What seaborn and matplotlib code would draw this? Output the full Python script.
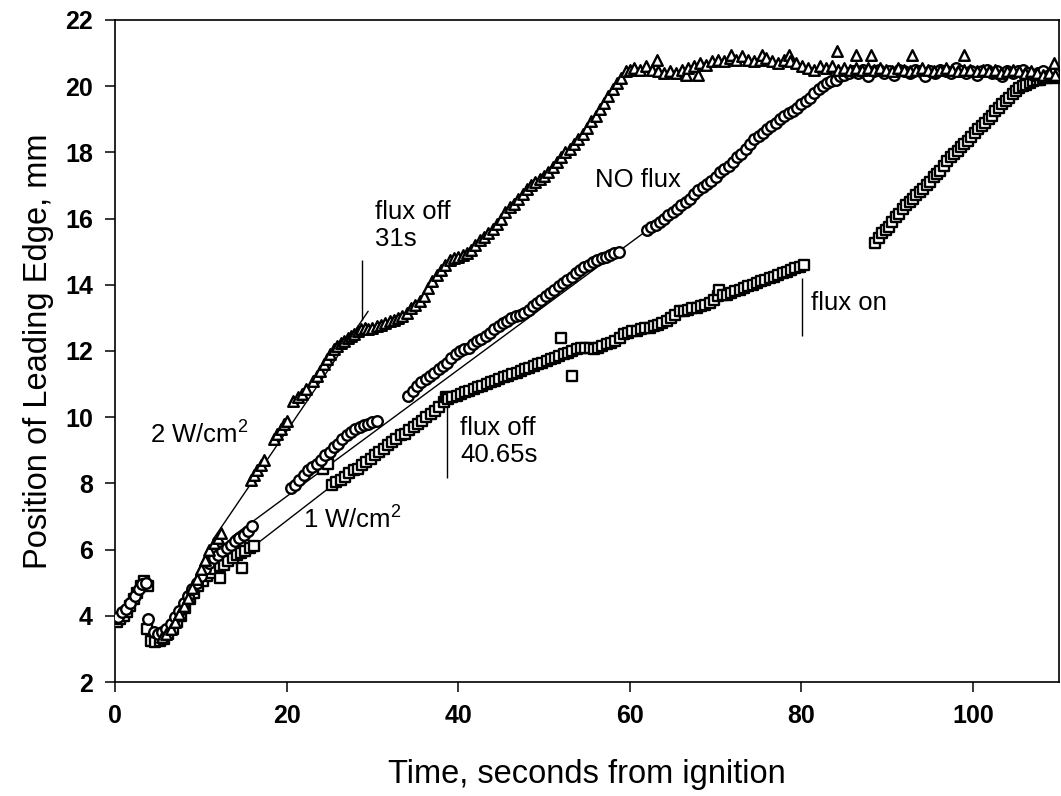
import matplotlib
matplotlib.use("Agg")
import matplotlib.pyplot as plt
import seaborn as sns
import pandas as pd

# ---------------- data ----------------
# 2 W/cm^2 series (triangles)
tri_t = [5.5, 6.0, 6.5, 7.0, 7.5, 8.0, 8.5, 9.0, 9.5, 10.0, 10.5, 11.0, 11.5, 12.0, 12.4,
         15.8, 16.2, 16.6, 17.0, 17.4, 18.5, 18.9, 19.3, 19.7, 20.1, 20.8, 21.3, 21.8, 22.3,
         23.1, 23.5, 23.9, 24.3, 24.7, 25.1, 25.5, 25.9, 26.3, 26.7, 27.1, 27.5, 27.9, 28.3, 28.7,
         29.1, 29.5, 30.0, 30.5, 31.0, 31.5, 32.0, 32.5, 33.0, 33.5, 34.0, 34.5, 35.0, 35.5, 36.0,
         36.5, 37.0, 37.5, 38.0, 38.5, 39.0, 39.5, 40.0, 40.5, 41.0, 41.5, 42.0, 42.5, 43.0, 43.5,
         44.0, 44.5, 45.0, 45.5, 46.0, 46.5, 47.0, 47.5, 48.0, 48.5, 49.0, 49.5, 50.0, 50.5, 51.0,
         51.5, 52.0, 52.5, 53.0, 53.5, 54.0, 54.5, 55.0, 55.5, 56.0, 56.5, 57.0, 57.5, 58.0, 58.5,
         59.0, 59.5, 60.0, 60.5, 61.2, 61.9, 62.6, 63.2, 63.3, 64.0, 64.7, 65.4, 66.1, 66.6, 66.8,
         67.5, 67.9, 68.2, 68.9, 69.6, 70.3, 71.0, 71.7, 71.8, 72.4, 73.1, 73.8, 74.5, 75.2, 75.4,
         75.9, 76.6, 77.3, 78.0, 78.6, 78.7, 79.4, 80.1, 80.8, 81.5, 82.2, 82.9, 83.6, 84.2, 84.3,
         85.0, 85.7, 86.4, 86.4, 87.1, 87.8, 88.1, 88.5, 89.2, 89.9, 90.6, 91.3, 92.0, 92.7, 92.9,
         93.4, 94.1, 94.8, 95.5, 96.2, 96.9, 97.6, 98.3, 99.0, 99.0, 99.7, 100.4, 101.1, 101.8,
         102.5, 103.2, 103.9, 104.6, 105.3, 106.0, 106.7, 107.4, 108.1, 108.8, 109.4, 109.6]
tri_y = [3.35, 3.45, 3.6, 3.8, 4.05, 4.3, 4.55, 4.85, 5.1, 5.4, 5.7, 6.0, 6.2, 6.35, 6.5,
         8.1, 8.25, 8.4, 8.55, 8.7, 9.35, 9.5, 9.65, 9.8, 9.9, 10.5, 10.6, 10.7, 10.85,
         11.1, 11.25, 11.4, 11.6, 11.75, 11.9, 12.05, 12.15, 12.25, 12.3, 12.4, 12.45, 12.5, 12.6, 12.65,
         12.7, 12.65, 12.7, 12.75, 12.8, 12.85, 12.9, 12.95, 13.0, 13.05, 13.15, 13.3, 13.4, 13.5, 13.65,
         13.9, 14.1, 14.3, 14.45, 14.6, 14.75, 14.8, 14.85, 14.9, 14.95, 15.05, 15.2, 15.35, 15.45, 15.55,
         15.7, 15.85, 16.0, 16.2, 16.35, 16.45, 16.6, 16.75, 16.9, 17.0, 17.1, 17.2, 17.3, 17.4, 17.55,
         17.7, 17.85, 18.0, 18.1, 18.25, 18.4, 18.55, 18.75, 18.95, 19.1, 19.3, 19.5, 19.7, 19.9, 20.1,
         20.25, 20.45, 20.5, 20.55, 20.5, 20.6, 20.5, 20.8, 20.45, 20.4, 20.45, 20.4, 20.5, 20.34, 20.55,
         20.6, 20.34, 20.7, 20.65, 20.75, 20.8, 20.75, 20.85, 20.94, 20.8, 20.9, 20.8, 20.75, 20.8, 20.94,
         20.85, 20.75, 20.7, 20.8, 20.94, 20.75, 20.7, 20.6, 20.55, 20.5, 20.6, 20.55, 20.6, 21.06, 20.5,
         20.55, 20.5, 20.94, 20.55, 20.5, 20.55, 20.94, 20.5, 20.55, 20.5, 20.45, 20.55, 20.5, 20.45, 20.94,
         20.5, 20.55, 20.5, 20.45, 20.5, 20.55, 20.5, 20.45, 20.5, 20.94, 20.5, 20.45, 20.5, 20.45,
         20.5, 20.4, 20.45, 20.5, 20.45, 20.4, 20.45, 20.4, 20.35, 20.4, 20.7, 20.35]

# NO flux series (circles)
circ_t = [0.3, 0.8, 1.3, 1.8, 2.3, 2.8, 3.2, 3.6, 3.9,
          4.5, 5.0, 5.5, 6.0, 6.5, 7.0, 7.5, 8.0, 8.5, 9.0, 9.5, 10.0, 10.5, 11.0, 11.5, 12.0,
          12.5, 13.0, 13.5, 14.0, 14.5, 15.0, 15.5, 16.0,
          20.5, 21.0, 21.5, 22.0, 22.5, 23.0, 23.5, 24.0, 24.5, 25.0, 25.5, 26.0, 26.5, 27.0,
          27.5, 28.0, 28.5, 29.0, 29.5, 30.0, 30.5,
          34.2, 34.7, 35.2, 35.7, 36.2, 36.7, 37.2, 37.7, 38.2, 38.7, 39.2, 39.7, 40.2, 40.7, 41.2,
          41.7, 42.2, 42.7, 43.2, 43.7, 44.2, 44.7, 45.2, 45.7, 46.2, 46.7, 47.2, 47.7, 48.2, 48.7,
          49.2, 49.7, 50.2, 50.7, 51.2, 51.7, 52.2, 52.7, 53.2, 53.7, 54.2, 54.7, 55.2, 55.7, 56.2,
          56.7, 57.2, 57.7, 58.2, 58.7,
          62.0, 62.5, 63.0, 63.5, 64.0, 64.5, 65.0, 65.5, 66.0, 66.5, 67.0, 67.5, 68.0, 68.5, 69.0,
          69.5, 70.0, 70.5, 71.0, 71.5, 72.0, 72.5, 73.0, 73.5, 74.0, 74.5, 75.0, 75.5, 76.0, 76.5,
          77.0, 77.5, 78.0, 78.5, 79.0, 79.5, 80.0, 80.5, 81.0, 81.5, 82.0, 82.5, 83.0, 83.5, 84.0,
          84.5, 85.0, 85.5, 86.0, 86.6, 87.2, 87.8, 88.4, 89.0, 89.6, 90.2, 90.8, 91.4, 92.0, 92.6,
          93.2, 93.8, 94.4, 95.0, 95.6, 96.2, 96.8, 97.4, 98.0, 98.6, 99.2, 99.8, 100.4, 101.0,
          101.6, 102.2, 102.8, 103.4, 104.0, 104.6, 105.2, 105.8, 106.4, 107.0, 107.6, 108.2,
          108.8, 109.4]
circ_y = [3.95, 4.1, 4.2, 4.4, 4.6, 4.8, 4.95, 5.0, 3.9,
          3.5, 3.45, 3.5, 3.6, 3.75, 3.95, 4.15, 4.4, 4.6, 4.8, 5.0, 5.2, 5.4, 5.6, 5.75, 5.85,
          5.95, 6.05, 6.15, 6.25, 6.35, 6.45, 6.55, 6.7,
          7.85, 7.95, 8.1, 8.25, 8.4, 8.5, 8.6, 8.7, 8.85, 8.95, 9.1, 9.2, 9.35, 9.45,
          9.55, 9.65, 9.7, 9.75, 9.8, 9.85, 9.9,
          10.65, 10.8, 10.95, 11.05, 11.15, 11.25, 11.35, 11.45, 11.55, 11.65, 11.8, 11.9, 12.0, 12.05, 12.1,
          12.2, 12.3, 12.35, 12.45, 12.55, 12.65, 12.75, 12.85, 12.9, 13.0, 13.05, 13.1, 13.15, 13.25, 13.35,
          13.45, 13.55, 13.65, 13.75, 13.85, 13.95, 14.05, 14.15, 14.25, 14.35, 14.45, 14.55, 14.6, 14.7, 14.75,
          14.8, 14.85, 14.9, 14.95, 15.0,
          15.65, 15.75, 15.8, 15.9, 16.0, 16.1, 16.2, 16.3, 16.4, 16.5, 16.6, 16.75, 16.85, 16.95, 17.05,
          17.15, 17.25, 17.4, 17.5, 17.6, 17.7, 17.85, 17.95, 18.1, 18.25, 18.4, 18.5, 18.6, 18.7, 18.8,
          18.9, 19.0, 19.1, 19.2, 19.25, 19.35, 19.45, 19.55, 19.65, 19.8, 19.9, 20.0, 20.1, 20.15, 20.2,
          20.3, 20.35, 20.4, 20.45, 20.4, 20.5, 20.3, 20.45, 20.5, 20.4, 20.45, 20.35, 20.5, 20.45, 20.4,
          20.5, 20.45, 20.3, 20.45, 20.4, 20.5, 20.45, 20.4, 20.55, 20.45, 20.4, 20.45, 20.35, 20.45,
          20.5, 20.4, 20.45, 20.3, 20.45, 20.4, 20.45, 20.5, 20.4, 20.35, 20.4, 20.45,
          20.35, 20.4]

# 1 W/cm^2 series (squares)
sq_t = [0.2, 0.6, 1.0, 1.4, 1.8, 2.2, 2.6, 3.0, 3.4, 3.8,
        3.7, 4.2, 4.7, 5.2, 5.7, 6.2, 6.7, 7.2, 7.7, 8.2, 8.7, 9.2, 9.7, 10.2, 10.7, 11.2, 11.7,
        12.2, 12.2, 12.7, 13.2, 13.7, 14.2, 14.7, 14.8, 15.2, 15.7, 16.2,
        24.2, 24.8, 25.3, 25.8, 26.3, 26.8, 27.3, 27.8, 28.3, 28.8, 29.3, 29.8, 30.3, 30.8, 31.3,
        31.8, 32.3, 32.8, 33.3, 33.8, 34.3, 34.8, 35.3, 35.8, 36.3, 36.8, 37.3, 37.8, 38.3, 38.6,
        38.8, 39.3, 39.8, 40.3, 40.8, 41.3, 41.8, 42.3, 42.8, 43.3, 43.8, 44.3, 44.8, 45.3, 45.8,
        46.3, 46.8, 47.3, 47.8, 48.3, 48.8, 49.3, 49.8, 50.3, 50.8, 51.3, 51.8, 52.0, 52.3, 52.8,
        53.3, 53.3, 53.8, 54.3, 54.8, 55.3, 55.8, 56.3, 56.8, 57.3, 57.8, 58.3, 58.8, 59.3, 59.8,
        60.3, 60.8, 61.3, 61.8, 62.3, 62.8, 63.3, 63.8, 64.3, 64.8, 65.3, 65.8, 66.3, 66.8, 67.3,
        67.8, 68.3, 68.8, 69.3, 69.8, 70.3, 70.4, 70.8, 71.3, 71.8, 72.3, 72.8, 73.3, 73.8, 74.3,
        74.8, 75.3, 75.8, 76.3, 76.8, 77.3, 77.8, 78.3, 78.8, 79.3, 79.8, 80.3,
        88.6, 89.0, 89.4, 89.8, 90.2, 90.6, 91.0, 91.4, 91.8, 92.2, 92.6, 93.0, 93.4, 93.8, 94.2,
        94.6, 95.0, 95.4, 95.8, 96.2, 96.6, 97.0, 97.4, 97.8, 98.2, 98.6, 99.0, 99.4, 99.8, 100.2,
        100.6, 101.0, 101.4, 101.8, 102.2, 102.6, 103.0, 103.4, 103.8, 104.2, 104.6, 105.0, 105.4,
        105.8, 106.2, 106.6, 107.0, 107.4, 107.8, 108.2, 108.6, 109.0, 109.4, 109.8]
sq_y = [3.8, 3.9, 4.0, 4.1, 4.3, 4.5, 4.7, 4.9, 5.05, 4.9,
        3.6, 3.25, 3.2, 3.25, 3.3, 3.45, 3.6, 3.8, 4.0, 4.25, 4.5, 4.7, 4.9, 5.05, 5.2, 5.3, 5.4,
        5.5, 5.15, 5.55, 5.65, 5.75, 5.85, 5.9, 5.45, 5.95, 6.05, 6.1,
        8.45, 8.6, 7.95, 8.05, 8.1, 8.2, 8.3, 8.4, 8.45, 8.55, 8.65, 8.75, 8.85, 8.95, 9.05,
        9.15, 9.25, 9.35, 9.45, 9.5, 9.6, 9.7, 9.8, 9.9, 10.0, 10.1, 10.2, 10.3, 10.45, 10.6,
        10.55, 10.6, 10.65, 10.7, 10.75, 10.8, 10.85, 10.9, 10.95, 11.0, 11.05, 11.1, 11.15, 11.2, 11.25,
        11.3, 11.35, 11.4, 11.45, 11.5, 11.55, 11.6, 11.65, 11.7, 11.75, 11.8, 11.85, 12.4, 11.9, 11.95,
        12.0, 11.25, 12.05, 12.1, 12.1, 12.1, 12.05, 12.1, 12.15, 12.2, 12.25, 12.3, 12.4, 12.5, 12.55,
        12.6, 12.6, 12.65, 12.7, 12.7, 12.75, 12.8, 12.85, 12.9, 13.0, 13.1, 13.2, 13.2, 13.25, 13.3,
        13.3, 13.35, 13.4, 13.45, 13.55, 13.65, 13.85, 13.7, 13.7, 13.75, 13.8, 13.85, 13.9, 13.95, 14.0,
        14.05, 14.1, 14.15, 14.2, 14.25, 14.3, 14.35, 14.4, 14.45, 14.5, 14.55, 14.6,
        15.25, 15.4, 15.55, 15.65, 15.75, 15.9, 16.05, 16.15, 16.3, 16.4, 16.5, 16.6, 16.7, 16.8, 16.9,
        17.0, 17.1, 17.25, 17.35, 17.45, 17.6, 17.75, 17.85, 17.95, 18.05, 18.15, 18.25, 18.35, 18.45, 18.6,
        18.7, 18.8, 18.9, 19.0, 19.1, 19.25, 19.35, 19.45, 19.55, 19.65, 19.75, 19.85, 19.95,
        20.0, 20.05, 20.1, 20.15, 20.2, 20.2, 20.25, 20.25, 20.3, 20.25, 20.3]

# fitted lines (endpoints)
fit_2w_t = [11.4, 29.5]
fit_2w_y = [6.3, 13.2]
fit_no_t = [13.7, 62.3]
fit_no_y = [6.4, 15.7]
fit_1w_t = [15.9, 38.6]
fit_1w_y = [6.05, 10.6]

# event marker lines: time, y-bottom, y-top
event_t = [28.75, 38.65, 80.1]
event_ylo = [12.95, 8.16, 12.45]
event_yhi = [14.75, 10.49, 14.2]

x_ticks = [0, 20, 40, 60, 80, 100]
y_ticks = [2, 4, 6, 8, 10, 12, 14, 16, 18, 20, 22]

# ---------------- plot ----------------
sns.set_theme(style="ticks")
plt.rcParams["font.family"] = ["Liberation Sans", "DejaVu Sans"]
plt.rcParams["mathtext.fontset"] = "custom"
plt.rcParams["mathtext.rm"] = "Liberation Sans"
plt.rcParams["mathtext.it"] = "Liberation Sans:italic"
plt.rcParams["text.color"] = "black"
plt.rcParams["axes.labelcolor"] = "black"

fig = plt.figure(figsize=(10.61, 7.96), dpi=100)
ax = fig.add_axes([0.1084, 0.1432, 0.8896, 0.8317])

line_kw = dict(color="black", linewidth=1.0, sort=False, estimator=None, ax=ax)
sns.lineplot(x=fit_2w_t, y=fit_2w_y, **line_kw)
sns.lineplot(x=fit_no_t, y=fit_no_y, **line_kw)
sns.lineplot(x=fit_1w_t, y=fit_1w_y, **line_kw)
ax.vlines(event_t, event_ylo, event_yhi, colors="black", linewidth=1.0)

mk = dict(color="white", edgecolor="black", linewidth=1.7, s=58, ax=ax, zorder=3)
sns.scatterplot(x=sq_t, y=sq_y, marker="s", **mk)
sns.scatterplot(x=circ_t, y=circ_y, marker="o", **mk)
sns.scatterplot(x=tri_t, y=tri_y, marker="^", **mk)

ax.set_xlim(0, 110)
ax.set_ylim(2, 22)
ax.set_xticks(x_ticks)
ax.set_yticks(y_ticks)
for s in ax.spines.values():
    s.set_linewidth(1.2)
    s.set_color("black")
ax.tick_params(direction="out", length=7, width=1.1, colors="black", pad=9,
               labelsize=18, top=False, right=False)
for lab in ax.get_xticklabels() + ax.get_yticklabels():
    lab.set_fontweight("bold")

ax.set_xlabel("Time, seconds from ignition", fontsize=23.5, labelpad=22)
ax.set_ylabel("Position of Leading Edge, mm", fontsize=23.5, labelpad=8)

tk = dict(fontsize=18.5, color="black")
ax.text(30.3, 16.56, "flux off\n31s", va="top", ha="left", linespacing=1.15, **tk)
ax.text(55.9, 17.17, "NO flux", va="center", ha="left", **tk)
ax.text(4.07, 9.46, r"2 W/cm$^{2}$", va="center", ha="left", **tk)
ax.text(40.2, 10.04, "flux off\n40.65s", va="top", ha="left", linespacing=1.15, **tk)
ax.text(21.9, 6.9, r"1 W/cm$^{2}$", va="center", ha="left", **tk)
ax.text(81.1, 13.45, "flux on", va="center", ha="left", **tk)

fig.savefig("out.png", dpi=100)
